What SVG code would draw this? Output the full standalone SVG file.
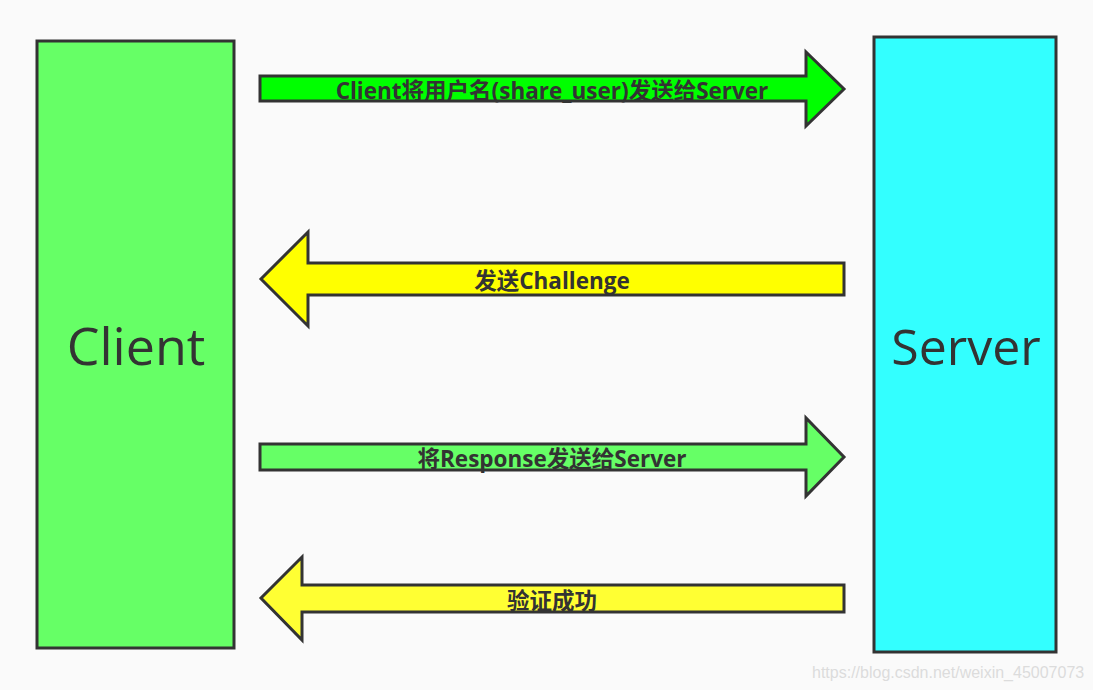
<svg xmlns="http://www.w3.org/2000/svg" width="1093" height="690" viewBox="0 0 1093 690">
<style>
.box{stroke:#333;stroke-width:3}
.arr{stroke:#333;stroke-width:3;stroke-linejoin:miter}
.big{font-family:"Open Sans","Noto Sans CJK SC",sans-serif;font-size:52px;fill:#333;text-anchor:middle}
.lbl{font-family:"Open Sans","Noto Sans CJK SC",sans-serif;font-size:22.5px;font-weight:bold;fill:#333;text-anchor:middle}
.wm{font-family:"Liberation Sans",Arial,sans-serif;font-size:16px;fill:#dcdcdc}
</style>
<rect width="1093" height="690" fill="#fafafa"/>
<g id="client">
<rect class="box" x="37" y="41" width="197" height="607" fill="#66ff66"/>
<text class="big" x="136" y="365">Client</text>
</g>
<g id="server">
<rect class="box" x="874" y="37" width="182" height="615" fill="#33ffff"/>
<text class="big" x="966" y="365" style="font-size:50px">Server</text>
</g>
<g id="connectors">
<g id="a1">
<polygon class="arr" fill="#00ff00" points="260,76 806,76 806,52 844,89 806,126 806,101 260,101"/>
<text class="lbl" x="552" y="99">Client将用户名(share_user)发送给Server</text>
</g>
<g id="a2">
<polygon class="arr" fill="#ffff00" points="844,263 308,263 308,232 261,279 308,326 308,295 844,295"/>
<text class="lbl" x="552" y="289">发送Challenge</text>
</g>
<g id="a3">
<polygon class="arr" fill="#66ff66" points="260,444 806,444 806,418 844,457 806,496 806,470 260,470"/>
<text class="lbl" x="552" y="467">将Response发送给Server</text>
</g>
<g id="a4">
<polygon class="arr" fill="#ffff33" points="844,585 302,585 302,557 261,598 302,640 302,612 844,612"/>
<text class="lbl" x="552" y="609">验证成功</text>
</g>
</g>
<text class="wm" x="812" y="678">https://blog.csdn.net/weixin_45007073</text>
</svg>
